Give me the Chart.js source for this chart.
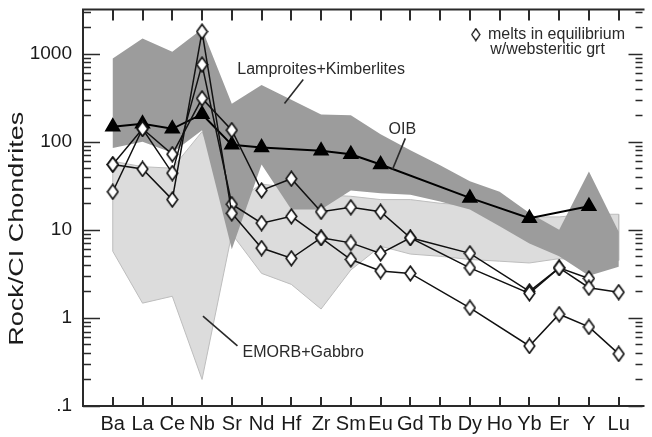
<!DOCTYPE html>
<html><head><meta charset="utf-8">
<script src="https://cdn.jsdelivr.net/npm/chart.js@4.4.1/dist/chart.umd.min.js"></script>
<style>html,body{margin:0;padding:0;background:#fff;overflow:hidden}</style>
</head><body>
<canvas id="c" width="652" height="437"></canvas>
<script>
// ---- data ----
const elements = ['Ba','La','Ce','Nb','Sr','Nd','Hf','Zr','Sm','Eu','Gd','Tb','Dy','Ho','Yb','Er','Y','Lu'];
const yTickValues = [0.1, 1, 10, 100, 1000];
const yTickLabels = ['.1', '1', '10', '100', '1000'];

const oib   = [148, 160, 140, 205, 92, 86, null, 79, 72, 55, null, null, 23, null, 13.5, null, 18.5, null];
const melt1 = [55, 140, 72, 310, 135, 28, 38, 16, 18, 16, 8.1, null, 5.4, null, 2.0, 3.7, 2.8, null];
const melt2 = [27, 140, 44, 750, 19.5, 11.9, 14.2, 8.1, 7.1, 5.4, 8.1, null, 3.7, null, 1.9, 3.7, 2.2, 1.96];
const melt3 = [55, 49, 22, 1775, 15.4, 6.2, 4.75, 8.1, 4.6, 3.4, 3.2, null, 1.3, null, 0.48, 1.1, 0.79, 0.39];

const lampUpper  = [880, 1480, 1050, 1900, 270, 440, 300, 204, 200, 121, 80, 54, 35.5, 27, 15.5, 10, 46, 9.5];
const lampLower  = [85, 100, 75, 135, 6, 55, 17, 17, 28, 26, 25, 21, 17, 11, 7, 5, 3, 3.8];
const emorbUpper = [60, 52, 50, 130, 20, 33, 30, 25, 24, 22, 22, 20, 19, 17, 14, 14, 15, 15];
const emorbLower = [5.7, 1.47, 1.76, 0.2, 9, 3.2, 2.4, 1.26, 3.5, 6.5, 5.3, 5, 4.6, 4.4, 4.2, 4.7, 4.5, 4.5];

// ---- annotation anchors (in data units: element index, value) ----
const notes = [
  {text: 'Lamproites+Kimberlites', at: [7.0, 659], line: [[6.4, 507], [5.77, 271]], align: 'center'},
  {text: 'OIB', at: [9.73, 138], line: [[9.83, 109], [9.4, 48.5]], align: 'center'},
  {text: 'EMORB+Gabbro', at: [6.4, 0.4], line: [[3.03, 1.05], [4.19, 0.48]], align: 'center'},
  {text: 'melts in equilibrium', at: [12.61, 1642], line: null, align: 'left', marker: [12.2, 1642]},
  {text: 'w/websteritic grt', at: [12.68, 1110], line: null, align: 'left'}
];

const FONT = '"Liberation Sans", Arial, Helvetica, sans-serif';

const pts = arr => arr.map((v, i) => v == null ? null : {x: i, y: v}).filter(Boolean);
const band = (up, lo) => {
  const p = up.map((v, i) => ({x: i, y: v}));
  for (let i = lo.length - 1; i >= 0; i--) p.push({x: i, y: lo[i]});
  p.push({x: 0, y: up[0]});
  return p;
};

const diamond = (() => {
  const c = document.createElement('canvas');
  c.width = 13; c.height = 17;
  const g = c.getContext('2d');
  g.beginPath(); g.moveTo(6.5, 1.2); g.lineTo(11.8, 8.5); g.lineTo(6.5, 15.8); g.lineTo(1.2, 8.5); g.closePath();
  g.fillStyle = '#fff'; g.fill(); g.lineWidth = 1.6; g.strokeStyle = '#111'; g.stroke();
  return c;
})();

const deco = {
  id: 'deco',
  afterDraw(chart) {
    const {ctx, chartArea: a, scales: {x, y}} = chart;
    ctx.save();
    // frame
    ctx.strokeStyle = '#2a2a2a'; ctx.lineWidth = 2;
    ctx.beginPath();
    ctx.moveTo(a.right + 2, a.top); ctx.lineTo(a.left, a.top); ctx.lineTo(a.left, a.bottom); ctx.lineTo(a.right + 2, a.bottom);
    ctx.stroke();
    // category ticks (inward)
    ctx.beginPath();
    elements.forEach((_, i) => {
      const px = Math.round(x.getPixelForValue(i));
      ctx.moveTo(px, a.top); ctx.lineTo(px, a.top + 11);
      ctx.moveTo(px, a.bottom); ctx.lineTo(px, a.bottom - 9);
    });
    ctx.stroke();
    // log ticks (inward) on left and right
    ctx.lineWidth = 1.6;
    ctx.beginPath();
    for (let e = -1; e <= 3; e++) {
      for (let m = 1; m <= 9; m++) {
        const v = m * Math.pow(10, e);
        if (v > y.max) break;
        const py = Math.round(y.getPixelForValue(v)) + 0.5;
        const l = m === 1 ? 17 : 8;
        const r = m === 1 ? 14 : 7;
        ctx.moveTo(a.left, py); ctx.lineTo(a.left + l, py);
        ctx.moveTo(a.right, py); ctx.lineTo(a.right - r, py);
      }
    }
    ctx.stroke();
    // annotations
    ctx.fillStyle = '#2a2a2a'; ctx.strokeStyle = '#2a2a2a'; ctx.lineWidth = 1.6;
    ctx.font = '16px ' + FONT; ctx.textBaseline = 'middle';
    notes.forEach(n => {
      ctx.textAlign = n.align;
      ctx.fillText(n.text, x.getPixelForValue(n.at[0]), y.getPixelForValue(n.at[1]));
      if (n.line) {
        ctx.beginPath();
        ctx.moveTo(x.getPixelForValue(n.line[0][0]), y.getPixelForValue(n.line[0][1]));
        ctx.lineTo(x.getPixelForValue(n.line[1][0]), y.getPixelForValue(n.line[1][1]));
        ctx.stroke();
      }
      if (n.marker) {
        const mx = x.getPixelForValue(n.marker[0]), my = y.getPixelForValue(n.marker[1]);
        ctx.drawImage(diamond, mx - 5, my - 7, 10, 14);
      }
    });
    // y axis title
    ctx.translate(17, y.getPixelForValue(10) - 1);
    ctx.rotate(-Math.PI / 2);
    ctx.scale(1.35, 1);
    ctx.font = '20px ' + FONT; ctx.textAlign = 'center'; ctx.textBaseline = 'middle';
    ctx.fillStyle = '#1a1a1a';
    ctx.fillText('Rock/CI Chondrites', 0, 0);
    ctx.restore();
  }
};

const meltStyle = (data, order) => ({
  data: pts(data), borderColor: '#111', borderWidth: 1.5, tension: 0, fill: false,
  pointStyle: diamond, pointRadius: 7, order
});

new Chart(document.getElementById('c'), {
  type: 'line',
  data: {
    datasets: [
      {label: 'EMORB+Gabbro', data: band(emorbUpper, emorbLower), fill: 'shape', backgroundColor: '#dcdcdc',
       borderColor: '#bdbdbd', borderWidth: 1, pointRadius: 0, tension: 0, order: 10},
      {label: 'Lamproites+Kimberlites', data: band(lampUpper, lampLower), fill: 'shape', backgroundColor: '#9c9c9c',
       borderColor: 'rgba(0,0,0,0)', borderWidth: 1, pointRadius: 0, tension: 0, order: 9},
      {label: 'OIB', data: pts(oib), borderColor: '#000', borderWidth: 2, tension: 0, fill: false,
       pointStyle: 'triangle', pointRadius: 7.5, pointBackgroundColor: '#000', pointBorderColor: '#000', order: 8},
      Object.assign({label: 'melt 1'}, meltStyle(melt1, 3)),
      Object.assign({label: 'melt 2'}, meltStyle(melt2, 2)),
      Object.assign({label: 'melt 3'}, meltStyle(melt3, 1))
    ]
  },
  options: {
    responsive: false, animation: false, devicePixelRatio: 1,
    layout: {padding: {top: 8, left: 0, right: 0, bottom: 0}},
    plugins: {legend: {display: false}, tooltip: {enabled: false}},
    scales: {
      x: {
        type: 'linear', min: -1, max: 17.8,
        grid: {display: false, drawTicks: false}, border: {display: false},
        afterBuildTicks: s => { s.ticks = elements.map((_, i) => ({value: i})); },
        ticks: {autoSkip: false, maxRotation: 0, minRotation: 0, padding: 6, color: '#1a1a1a',
                font: {family: FONT, size: 20}, callback: v => elements[v]},
        afterFit: s => { s.height = 31; s.paddingLeft = 0; s.paddingRight = 0; }
      },
      y: {
        type: 'logarithmic', min: 0.1, max: Math.pow(10, 3.5),
        grid: {display: false, drawTicks: false}, border: {display: false},
        afterBuildTicks: s => { s.ticks = yTickValues.map(v => ({value: v})); },
        ticks: {padding: 11, color: '#1a1a1a', font: {family: FONT, size: 19},
                callback: v => yTickLabels[yTickValues.indexOf(v)]},
        afterFit: s => { s.width = 83; s.paddingTop = 0; s.paddingBottom = 0; }
      }
    }
  },
  plugins: [deco]
});
</script>
</body></html>
